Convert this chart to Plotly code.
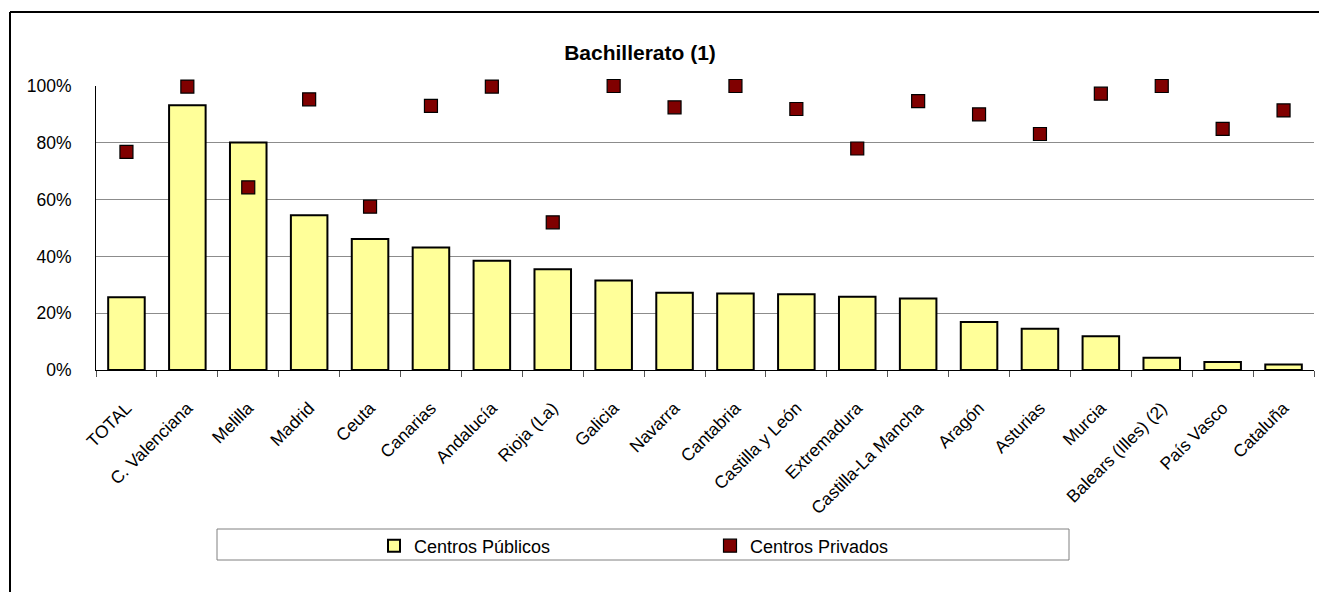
import plotly.graph_objects as go

categories = ["TOTAL", "C. Valenciana", "Melilla", "Madrid", "Ceuta", "Canarias", "Andalucía",
              "Rioja (La)", "Galicia", "Navarra", "Cantabria", "Castilla y León", "Extremadura",
              "Castilla-La Mancha", "Aragón", "Asturias", "Murcia", "Balears (Illes) (2)",
              "País Vasco", "Cataluña"]
publicos = [0.256, 0.932, 0.801, 0.545, 0.461, 0.431, 0.385, 0.355, 0.315, 0.272, 0.269,
            0.267, 0.258, 0.252, 0.169, 0.145, 0.119, 0.043, 0.028, 0.019]
privados = [0.768, 0.998, 0.643, 0.953, 0.575, 0.930, 0.998, 0.520, 1.000, 0.925, 1.000,
            0.919, 0.780, 0.947, 0.900, 0.831, 0.973, 1.000, 0.849, 0.914]
ytick_vals = [0, 0.2, 0.4, 0.6, 0.8, 1.0]
ytick_text = ["0%", "20%", "40%", "60%", "80%", "100%"]

OFF = 8  # page body margin
W, H = 1327 - OFF, 592 - OFF
L, R, T, B = 96 - OFF, 1314 - OFF, 86 - OFF, 370 - OFF


def px(x):
    return (x - OFF - L) / (R - L)


def py(y):
    return (B - (y - OFF)) / (B - T)


fig = go.Figure()
fig.add_trace(go.Bar(x=categories, y=publicos, name="Centros Públicos",
                     marker=dict(color="#FFFF99", line=dict(color="black", width=2))))
fig.add_trace(go.Scatter(x=categories, y=privados, name="Centros Privados", mode="markers",
                         cliponaxis=False,
                         marker=dict(symbol="square", size=13, color="#800000",
                                     line=dict(color="black", width=1.2))))

font = "Arial, Liberation Sans, sans-serif"
fig.update_layout(
    width=W, height=H,
    margin=dict(l=L, r=W - R, t=T, b=H - B),
    paper_bgcolor="white", plot_bgcolor="white",
    font=dict(family=font, size=17.5, color="black"),
    bargap=0.4,
    showlegend=True,
    title=dict(text="<b>Bachillerato (1)</b>", font=dict(size=21, family=font, color="black"),
               x=px(640), xref="paper", xanchor="center",
               y=1 - (53 - OFF) / H, yref="container", yanchor="middle"),
    legend=dict(orientation="h", x=px(374), xanchor="left", y=py(546), yanchor="middle",
                bgcolor="rgba(0,0,0,0)", borderwidth=0, entrywidth=291, entrywidthmode="pixels",
                itemwidth=30, font=dict(size=18, family=font)),
    xaxis=dict(type="category", range=[-0.5, len(categories) - 0.5], autorange=False,
               tickangle=-45, showline=True, linecolor="black", linewidth=1,
               ticks="outside", tickson="boundaries", ticklen=6, tickcolor="#555555",
               showgrid=False, tickfont=dict(size=17.5), ticklabelstandoff=20, automargin=False),
    yaxis=dict(range=[0, 1], tickvals=ytick_vals, ticktext=ytick_text, showline=True,
               linecolor="black", linewidth=1, ticks="",
               showgrid=True, gridcolor="#8c8c8c", gridwidth=1.2, zeroline=False,
               tickfont=dict(size=17.5), ticklabelstandoff=20, automargin=False),
    shapes=[
        dict(type="rect", xref="paper", yref="paper", x0=px(217), x1=px(1069), y0=py(529), y1=py(560),
             line=dict(color="#808080", width=1), fillcolor="rgba(0,0,0,0)", layer="below"),
        dict(type="line", xref="paper", yref="paper", x0=px(10), x1=px(1340), y0=py(12), y1=py(12),
             line=dict(color="black", width=2)),
        dict(type="line", xref="paper", yref="paper", x0=px(10), x1=px(10), y0=py(12), y1=py(600),
             line=dict(color="black", width=2)),
    ],
)

fig.write_html("out.html")
